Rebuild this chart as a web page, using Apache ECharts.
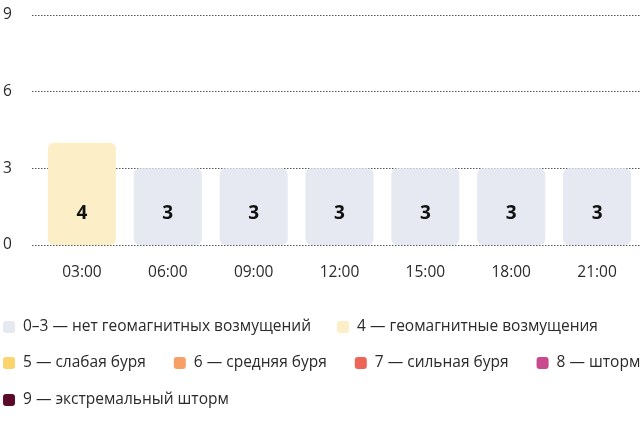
<!DOCTYPE html>
<html><head><meta charset="utf-8">
<script src="https://cdn.jsdelivr.net/npm/echarts@6/dist/echarts.min.js"></script>
<style>html,body{margin:0;padding:0;background:#fff}#c{width:640px;height:425px}</style>
</head><body><div id="c"></div>
<script>
const categories = ['03:00','06:00','09:00','12:00','15:00','18:00','21:00'];
const values = [4,3,3,3,3,3,3];
const yTicks = [0,3,6,9];
const levelNames = ['0–3 — нет геомагнитных возмущений','4 — геомагнитные возмущения','5 — слабая буря','6 — средняя буря','7 — сильная буря','8 — шторм','9 — экстремальный шторм'];
const levelColors = ['#e6e8f2','#fcefc7','#fbd46d','#f6a067','#ec6557','#c9498e','#5c0a2c'];

function levelIndex(v){ return v <= 3 ? 0 : v - 3; }

const series = levelNames.map((name, li) => ({
  name: name,
  type: 'bar',
  stack: 'k',
  xAxisIndex: 1,
  yAxisIndex: 1,
  barWidth: 68,
  itemStyle: { color: levelColors[li], borderRadius: 6 },
  label: {
    show: true, position: 'insideBottom', distance: 22,
    fontFamily: 'Open Sans', fontSize: 19, fontWeight: 'bold', color: '#111'
  },
  data: values.map(v => levelIndex(v) === li ? v : '-')
}));

const chart = echarts.init(document.getElementById('c'));
const txt = { fontFamily: 'Open Sans', fontSize: 15.5, color: '#2a2a2a' };
chart.setOption({
  animation: false,
  textStyle: { fontFamily: 'Open Sans' },
  grid: [
    { left: 30, right: 0, top: 15, bottom: 180 },
    { left: 39, width: 602, top: 15, bottom: 180 }
  ],
  xAxis: [
    { gridIndex: 0, type: 'category', data: categories, show: false },
    { gridIndex: 1, type: 'category', data: categories,
      axisLine: { show: false }, axisTick: { show: false },
      axisLabel: Object.assign({ margin: 20 }, txt) }
  ],
  yAxis: [
    { gridIndex: 0, type: 'value', min: yTicks[0], max: yTicks[yTicks.length-1], interval: 3,
      axisLine: { show: false }, axisTick: { show: false },
      axisLabel: Object.assign({ align: 'left', margin: 29 }, txt),
      splitLine: { lineStyle: { type: [1.5, 1.5], color: '#555', width: 1 } } },
    { gridIndex: 1, type: 'value', min: 0, max: 9, interval: 3, show: false, splitLine: { show: false } }
  ],
  legend: [
    { data: levelNames.slice(0,2), left: 0, top: 319, itemGap: 26 },
    { data: levelNames.slice(2,6), left: 0, top: 355, itemGap: 28 },
    { data: levelNames.slice(6), left: 0, top: 392, itemGap: 26 }
  ].map(l => Object.assign(l, {
    width: 900, orient: 'horizontal',
    icon: 'roundRect', itemWidth: 12, itemHeight: 12, padding: [0,0,0,3],
    selectedMode: false, textStyle: Object.assign({ padding: [0,0,0,3] }, txt)
  })),
  series: series
});
</script></body></html>
